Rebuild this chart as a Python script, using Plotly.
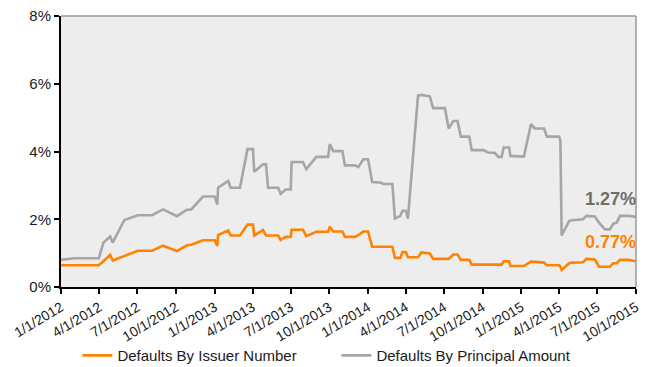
import plotly.graph_objects as go

dates = [
    "2012-01-01", "2012-02-02", "2012-03-31", "2012-04-11", "2012-04-27", "2012-05-03",
    "2012-05-31", "2012-06-08", "2012-07-02", "2012-08-05", "2012-08-31", "2012-10-03",
    "2012-10-27", "2012-11-06", "2012-12-04", "2013-01-01", "2013-01-07", "2013-01-09",
    "2013-02-02", "2013-02-08", "2013-03-02", "2013-03-20", "2013-04-02", "2013-04-05",
    "2013-04-26", "2013-05-03", "2013-05-08", "2013-06-01", "2013-06-07", "2013-06-19",
    "2013-07-01", "2013-07-03", "2013-07-30", "2013-08-07", "2013-08-31", "2013-09-28",
    "2013-10-02", "2013-10-10", "2013-11-01", "2013-11-07", "2013-12-01", "2013-12-09",
    "2013-12-21", "2014-01-01", "2014-01-11", "2014-02-02", "2014-02-06", "2014-02-28",
    "2014-03-06", "2014-03-19", "2014-03-24", "2014-04-01", "2014-04-06", "2014-04-30",
    "2014-05-08", "2014-05-28", "2014-06-05", "2014-07-03", "2014-07-12", "2014-07-23",
    "2014-08-02", "2014-08-10", "2014-08-30", "2014-09-05", "2014-10-02", "2014-10-14",
    "2014-10-30", "2014-11-07", "2014-11-15", "2014-11-20", "2014-12-03", "2014-12-06",
    "2015-01-07", "2015-01-24", "2015-02-02", "2015-02-24", "2015-03-03", "2015-04-01",
    "2015-04-04", "2015-04-07", "2015-04-25", "2015-05-01", "2015-05-28", "2015-06-05",
    "2015-06-25", "2015-07-05", "2015-07-19", "2015-07-31", "2015-08-08", "2015-08-16",
    "2015-08-24", "2015-09-13", "2015-10-01",
]

defaults_by_issuer_number = [
    0.64, 0.64, 0.64, 0.76, 0.95, 0.78,
    0.92, 0.94, 1.07, 1.07, 1.22, 1.06,
    1.23, 1.25, 1.38, 1.38, 1.21, 1.53,
    1.67, 1.52, 1.52, 1.84, 1.84, 1.52,
    1.68, 1.52, 1.52, 1.52, 1.39, 1.48,
    1.48, 1.69, 1.69, 1.50, 1.63, 1.63,
    1.78, 1.64, 1.64, 1.48, 1.48, 1.53,
    1.64, 1.64, 1.19, 1.19, 1.19, 1.19,
    0.86, 0.86, 1.03, 1.03, 0.88, 0.88,
    1.02, 0.99, 0.83, 0.83, 0.83, 0.96,
    0.96, 0.80, 0.80, 0.66, 0.66, 0.66,
    0.66, 0.66, 0.66, 0.76, 0.76, 0.62,
    0.62, 0.75, 0.74, 0.72, 0.64, 0.64,
    0.60, 0.50, 0.70, 0.72, 0.73, 0.83,
    0.81, 0.60, 0.60, 0.60, 0.70, 0.70,
    0.80, 0.80, 0.76,
]

defaults_by_principal_amount = [
    0.80, 0.85, 0.85, 1.31, 1.49, 1.31,
    1.98, 2.01, 2.12, 2.12, 2.29, 2.09,
    2.28, 2.29, 2.67, 2.67, 2.43, 2.93,
    3.13, 2.93, 2.93, 4.07, 4.07, 3.40,
    3.62, 3.62, 2.93, 2.93, 2.75, 2.88,
    2.88, 3.69, 3.69, 3.48, 3.84, 3.84,
    4.22, 4.01, 4.01, 3.59, 3.59, 3.54,
    3.77, 3.77, 3.10, 3.08, 3.04, 3.04,
    2.02, 2.10, 2.25, 2.25, 2.02, 5.65,
    5.67, 5.63, 5.28, 5.28, 4.68, 4.90,
    4.90, 4.44, 4.44, 4.04, 4.04, 3.97,
    3.96, 3.84, 3.84, 4.12, 4.12, 3.87,
    3.85, 4.81, 4.68, 4.68, 4.44, 4.44,
    4.31, 1.52, 1.95, 1.97, 2.00, 2.10,
    2.08, 1.90, 1.70, 1.70, 1.87, 1.90,
    2.10, 2.10, 2.07,
]

x_tick_dates = [
    "2012-01-01", "2012-04-01", "2012-07-01", "2012-10-01",
    "2013-01-01", "2013-04-01", "2013-07-01", "2013-10-01",
    "2014-01-01", "2014-04-01", "2014-07-01", "2014-10-01",
    "2015-01-01", "2015-04-01", "2015-07-01", "2015-10-01",
]
x_tick_labels = [
    "1/1/2012", "4/1/2012", "7/1/2012", "10/1/2012",
    "1/1/2013", "4/1/2013", "7/1/2013", "10/1/2013",
    "1/1/2014", "4/1/2014", "7/1/2014", "10/1/2014",
    "1/1/2015", "4/1/2015", "7/1/2015", "10/1/2015",
]
y_tick_values = [0, 2, 4, 6, 8]
y_tick_labels = ["0%", "2%", "4%", "6%", "8%"]

label_principal = "1.27%"
label_issuer = "0.77%"

ORANGE = "#FF8300"
GREY = "#A6A6A6"
FONT = "Liberation Sans, Arial, sans-serif"

fig = go.Figure()
fig.add_trace(go.Scatter(
    x=dates, y=defaults_by_issuer_number, mode="lines",
    name="Defaults By Issuer Number",
    line=dict(color=ORANGE, width=2.6),
))
fig.add_trace(go.Scatter(
    x=dates, y=defaults_by_principal_amount, mode="lines",
    name="Defaults By Principal Amount",
    line=dict(color=GREY, width=2.6),
))

fig.update_layout(
    width=647, height=367,
    margin=dict(l=61, r=11, t=16, b=80, autoexpand=False),
    paper_bgcolor="white",
    plot_bgcolor="#EDEDED",
    font=dict(family=FONT, size=15, color="#1A1A1A"),
    showlegend=True,
    legend=dict(
        orientation="h", x=0.479, xanchor="center",
        yref="container", y=0.031, yanchor="middle",
        font=dict(size=15, color="#1A1A1A"),
        entrywidth=214, entrywidthmode="pixels",
        bgcolor="rgba(0,0,0,0)",
    ),
    xaxis=dict(
        type="date",
        range=["2012-01-01", "2015-10-01"],
        tickmode="array", tickvals=x_tick_dates, ticktext=x_tick_labels,
        tickangle=-31,
        tickfont=dict(size=14, color="#1A1A1A"),
        ticks="outside", ticklen=5, tickwidth=1.5, tickcolor="black",
        showline=True, linecolor="black", linewidth=2,
        showgrid=False, zeroline=False, automargin=False,
    ),
    yaxis=dict(
        range=[0, 8],
        tickmode="array", tickvals=y_tick_values, ticktext=y_tick_labels,
        tickfont=dict(size=15, color="#1A1A1A"),
        ticks="outside", ticklen=5, tickwidth=1.5, tickcolor="black",
        showline=True, linecolor="black", linewidth=2,
        showgrid=False, zeroline=False, automargin=False,
    ),
    shapes=[
        dict(type="line", xref="paper", yref="paper", x0=0, x1=1, y0=1, y1=1,
             line=dict(color="#999999", width=1.5)),
        dict(type="line", xref="paper", yref="paper", x0=1, x1=1, y0=0, y1=1,
             line=dict(color="#999999", width=1.5)),
    ],
    annotations=[
        dict(text=f"<b>{label_principal}</b>", xref="paper", yref="y",
             x=1, y=2.6, xanchor="right", yanchor="middle", showarrow=False,
             xshift=2, font=dict(size=18, color="#6E6E6E", family=FONT)),
        dict(text=f"<b>{label_issuer}</b>", xref="paper", yref="y",
             x=1, y=1.33, xanchor="right", yanchor="middle", showarrow=False,
             xshift=2, font=dict(size=18, color=ORANGE, family=FONT)),
    ],
)

fig.write_html("out.html")
